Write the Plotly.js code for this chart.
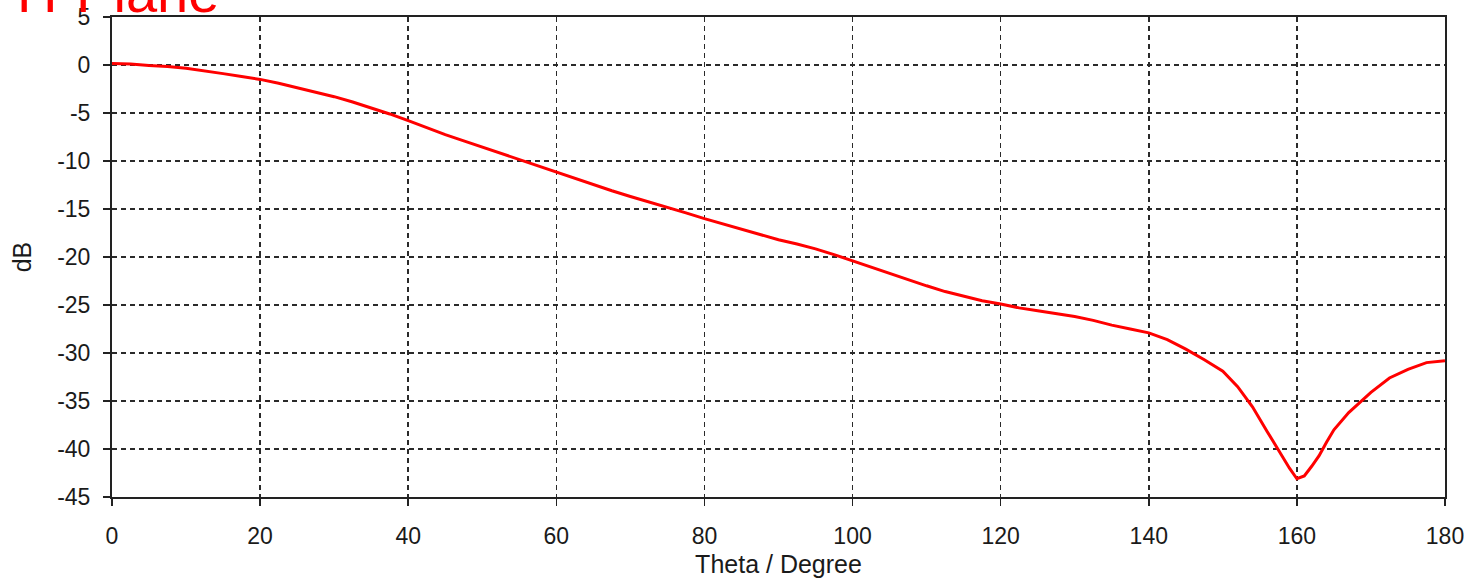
<!DOCTYPE html>
<html>
<head>
<meta charset="utf-8">
<script src="https://cdn.plot.ly/plotly-3.0.1.min.js"></script>
<style>
  html, body { margin: 0; padding: 0; background: #ffffff; }
  #chart { width: 1464px; height: 582px; }
</style>
</head>
<body>
<div id="chart"></div>
<script>
const chartTitle = "H-Plane";
const xTitle = "Theta / Degree";
const yTitle = "dB";

const theta = [0, 2.5, 5, 7.5, 10, 12.5, 15, 17.5, 20, 22.5, 25, 27.5, 30, 32.5, 35, 37.5, 40, 42.5, 45, 47.5,
  50, 52.5, 55, 57.5, 60, 62.5, 65, 67.5, 70, 72.5, 75, 77.5, 80, 82.5, 85, 87.5, 90, 92.5, 95, 97.5,
  100, 102.5, 105, 107.5, 110, 112.5, 115, 117.5, 120, 122.5, 125, 127.5, 130, 132.5, 135, 137.5, 140,
  142.5, 145, 147.5, 150, 152, 154, 156, 158, 159, 160, 161, 162, 163, 164, 165, 167, 170, 172.5, 175, 177.5, 180];

const gainDb = [0.15, 0.1, -0.05, -0.15, -0.35, -0.6, -0.9, -1.2, -1.5, -1.9, -2.35, -2.8, -3.3, -3.85, -4.45, -5.1, -5.8, -6.55, -7.25, -7.9,
  -8.55, -9.2, -9.9, -10.55, -11.2, -11.85, -12.5, -13.1, -13.7, -14.25, -14.8, -15.4, -16.0, -16.55, -17.1, -17.65, -18.2, -18.65, -19.15, -19.75,
  -20.4, -21.1, -21.7, -22.35, -23.0, -23.6, -24.1, -24.55, -24.9, -25.3, -25.6, -25.9, -26.2, -26.6, -27.1, -27.5, -27.9,
  -28.6, -29.6, -30.7, -31.9, -33.5, -35.6, -38.2, -40.8, -42.0, -43.1, -42.8, -41.8, -40.7, -39.3, -38.0, -36.2, -34.1, -32.6, -31.7, -31.0, -30.8];

const xTicks = [0, 20, 40, 60, 80, 100, 120, 140, 160, 180];
const yTicks = [5, 0, -5, -10, -15, -20, -25, -30, -35, -40, -45];

const tickFont = { family: "Liberation Sans, Arial, sans-serif", size: 23, color: "#1a1a1a" };
const titleFont = { family: "Liberation Sans, Arial, sans-serif", size: 25, color: "#1a1a1a" };

const trace = {
  x: theta,
  y: gainDb,
  type: "scatter",
  mode: "lines",
  line: { color: "#ff0000", width: 3 },
  hoverinfo: "skip"
};

const axisCommon = {
  showline: true,
  linecolor: "#222222",
  linewidth: 2,
  mirror: true,
  showgrid: true,
  gridcolor: "#2a2a2a",
  gridwidth: 1.5,
  griddash: "5px,4px",
  zeroline: false,
  ticks: "outside",
  ticklen: 7,
  tickwidth: 1.5,
  tickcolor: "#222222",
  tickfont: tickFont,
  ticklabeloverflow: "allow",
  automargin: false
};

const layout = {
  width: 1464,
  height: 582,
  paper_bgcolor: "#ffffff",
  plot_bgcolor: "#ffffff",
  margin: { l: 112, r: 19, t: 17, b: 85 },
  showlegend: false,
  xaxis: Object.assign({}, axisCommon, {
    range: [0, 180],
    tickmode: "array",
    tickvals: xTicks,
    ticktext: xTicks.map(String),
    ticklabelstandoff: 10,
    title: { text: xTitle, font: titleFont, standoff: 8 }
  }),
  yaxis: Object.assign({}, axisCommon, {
    range: [-45, 5],
    tickmode: "array",
    tickvals: yTicks,
    ticktext: yTicks.map(String),
    ticklabelstandoff: 8,
    title: { text: yTitle, font: titleFont, standoff: 18 }
  }),
  annotations: [{
    text: chartTitle,
    xref: "paper", yref: "paper",
    x: -0.073, y: 1.052,
    xanchor: "left", yanchor: "middle",
    showarrow: false,
    font: { family: "Liberation Sans, Arial, sans-serif", size: 56, color: "#ff0000" }
  }]
};

Plotly.newPlot("chart", [trace], layout, { displayModeBar: false, staticPlot: true });
</script>
</body>
</html>
